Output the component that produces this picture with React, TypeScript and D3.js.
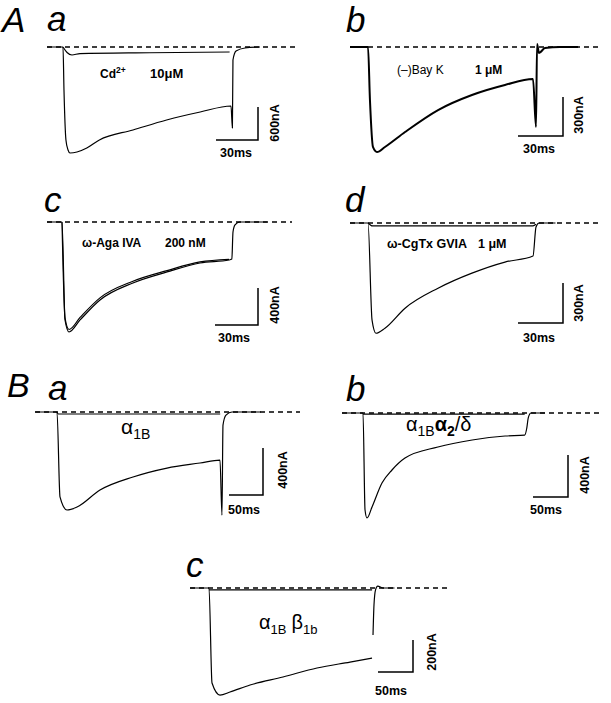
import * as d3 from "d3";

// ---- traces: time in ms from step onset, current in nA (inward = negative) ----
// A a: control, then 10 uM Cd2+
const aaTime = [-11.4, 0, 0.7, 2.1, 3.6, 5, 10, 17, 26, 50, 74, 98, 120, 121, 121.4, 123.6, 130, 140.7];
const aaCurrent = [0, 0, -780, -1690, -1873, -1927, -1909, -1836, -1690, -1509, -1327, -1182, -1073, -1473, -236, -73, -18, 0];
const aaCdTime = [0, 2.9, 6.4, 12.1, 62, 119];
const aaCdCurrent = [0, -100, -145, -120, -105, -91];

// A b: (-)Bay K 1 uM
const abTime = [-12, 0, 1.3, 3.3, 6, 11.3, 24.7, 46.7, 69.3, 91.3, 110, 112, 112.7, 114, 118, 128, 140];
const abCurrent = [0, 0, -408, -769, -808, -769, -654, -485, -369, -292, -246, -615, 23, -46, -8, 0, 0];

// A c: w-Aga IVA 200 nM (two near-identical sweeps)
const acTime = [-10.5, 0, 2.1, 4.9, 12.6, 26.5, 49.5, 73.3, 96.3, 116.5, 118.5, 119.3, 120.7, 124, 143];
const acCurrent = [0, 0, -1059, -1189, -1059, -843, -659, -540, -443, -411, -400, -108, -32, 0, 0];
const acToxTime = [0, 2.1, 4.9, 12.6, 26.5, 49.5, 73.3, 96.3, 116.5];
const acToxCurrent = [0, -1035, -1162, -1032, -820, -640, -525, -432, -404];

// A d: w-CgTx GVIA 1 uM
const adTime = [-12, 0, 2.7, 5.3, 11.3, 24.7, 46.7, 69.3, 91.3, 110, 112, 114, 125];
const adCurrent = [0, 0, -729, -827, -789, -639, -489, -376, -293, -248, -30, 0, 0];
const adToxTime = [0, 3, 110, 112];
const adToxCurrent = [0, -22, -22, -10];

// B a: alpha1B
const baTime = [-32, 0, 4.4, 14.7, 29.4, 63.2, 111.8, 161.8, 210.3, 239.7, 242.6, 244.1, 248.5, 257.4, 300];
const baCurrent = [0, 0, -723, -834, -809, -664, -553, -477, -434, -409, -877, -111, -26, 0, 0];
const baResTime = [0, 2, 240];
const baResCurrent = [0, -17, -17];

// B b: alpha1B alpha2/delta
const bbTime = [-30, 0, 2.9, 5.7, 12.9, 27.1, 41.4, 60, 107, 156, 203, 231, 234, 236, 240, 260];
const bbCurrent = [0, 0, -924, -1000, -895, -667, -543, -429, -324, -257, -219, -210, -143, -48, 0, 0];
const bbResTime = [0, 231];
const bbResCurrent = [-10, -10];

// B c: alpha1B beta1b
const bcTime = [-27, 0, 4.3, 15.7, 30, 58.6, 105.7, 154.3, 201.4, 232.9];
const bcCurrent = [0, 0, -594, -669, -650, -606, -556, -500, -463, -438];
const bcTailTime = [234.3, 235.7, 238, 241, 248.6, 265];
const bcTailCurrent = [-294, -106, -10, 12, 0, 0];
const bcResTime = [0, 233];
const bcResCurrent = [-12, -12];

type Series = { t: number[]; i: number[]; w?: number };
type Panel = {
  letter: string;
  lx: number;
  ly: number;
  x0: number;
  y0: number;
  barMs: number;
  barW: number;
  barNA: number;
  barH: number;
  cx: number;
  cy: number;
  dash: [number, number];
  series: Series[];
  msPos: [number, number];
  nAPos: [number, number];
};

const panels: Panel[] = [
  { letter: "a", lx: 47, ly: 31, x0: 63, y0: 47, barMs: 30, barW: 42, barNA: 600, barH: 33, cx: 258, cy: 140, dash: [47, 295],
    series: [{ t: aaTime, i: aaCurrent }, { t: aaCdTime, i: aaCdCurrent }], msPos: [220, 157], nAPos: [279, 123] },
  { letter: "b", lx: 346, ly: 32, x0: 368, y0: 47, barMs: 30, barW: 45, barNA: 300, barH: 39, cx: 563, cy: 136, dash: [350, 598],
    series: [{ t: abTime, i: abCurrent, w: 2 }], msPos: [523, 153], nAPos: [583, 115] },
  { letter: "c", lx: 44, ly: 212, x0: 62, y0: 222, barMs: 30, barW: 43, barNA: 400, barH: 37, cx: 258, cy: 325, dash: [47, 292],
    series: [{ t: acTime, i: acCurrent }, { t: acToxTime, i: acToxCurrent }], msPos: [218, 342], nAPos: [279, 305] },
  { letter: "d", lx: 345, ly: 212, x0: 368, y0: 223, barMs: 30, barW: 45, barNA: 300, barH: 40, cx: 563, cy: 323, dash: [350, 598],
    series: [{ t: adTime, i: adCurrent }, { t: adToxTime, i: adToxCurrent }], msPos: [523, 342], nAPos: [583, 303] },
  { letter: "a", lx: 48, ly: 400, x0: 57, y0: 412, barMs: 50, barW: 34, barNA: 400, barH: 47, cx: 263, cy: 495, dash: [35, 300],
    series: [{ t: baTime, i: baCurrent }, { t: baResTime, i: baResCurrent }], msPos: [228, 514], nAPos: [287, 470] },
  { letter: "b", lx: 346, ly: 401, x0: 363, y0: 413, barMs: 50, barW: 35, barNA: 400, barH: 42, cx: 568, cy: 497, dash: [342, 600],
    series: [{ t: bbTime, i: bbCurrent }, { t: bbResTime, i: bbResCurrent }], msPos: [530, 514], nAPos: [589, 475] },
  { letter: "c", lx: 186, ly: 577, x0: 209, y0: 588, barMs: 50, barW: 35, barNA: 200, barH: 32, cx: 413, cy: 672, dash: [190, 448],
    series: [{ t: bcTime, i: bcCurrent }, { t: bcTailTime, i: bcTailCurrent }, { t: bcResTime, i: bcResCurrent }], msPos: [375, 695], nAPos: [436, 652] },
];

const sans = "'Liberation Sans', Arial, Helvetica, sans-serif";

function TracePanel({ p }: { p: Panel }) {
  const x = d3.scaleLinear().domain([0, p.barMs]).range([p.x0, p.x0 + p.barW]);
  const y = d3.scaleLinear().domain([0, -p.barNA]).range([p.y0, p.y0 + p.barH]);
  const baseY = y(0);
  return (
    <g>
      <text x={p.lx} y={p.ly} fontFamily={sans} fontStyle="italic" fontSize={35}>
        {p.letter}
      </text>
      <line x1={p.dash[0]} x2={p.dash[1]} y1={baseY} y2={baseY} stroke="#000" strokeWidth={1.3} strokeDasharray="5,4" />
      {p.series.map((s, k) => {
        const line = d3
          .line<number>()
          .x((_, j) => x(s.t[j]))
          .y((_, j) => y(s.i[j]))
          .curve(d3.curveMonotoneX);
        return <path key={k} d={line(s.t) ?? ""} fill="none" stroke="#000" strokeWidth={s.w ?? 1.2} strokeLinejoin="round" />;
      })}
      <path
        d={`M${p.cx - (x(p.barMs) - x(0))},${p.cy}H${p.cx}V${p.cy - (y(-p.barNA) - y(0))}`}
        fill="none"
        stroke="#000"
        strokeWidth={1.5}
      />
      <text x={p.msPos[0]} y={p.msPos[1]} fontFamily={sans} fontWeight="bold" fontSize={12.5}>
        {`${p.barMs}ms`}
      </text>
      <text
        transform={`translate(${p.nAPos[0]},${p.nAPos[1]}) rotate(-90)`}
        textAnchor="middle"
        fontFamily={sans}
        fontWeight="bold"
        fontSize={12.5}
      >
        {`${p.barNA}nA`}
      </text>
    </g>
  );
}

export default function App() {
  const lab = { fontFamily: sans, fontWeight: "bold" as const, fontSize: 12 };
  return (
    <svg width={611} height={703} style={{ position: "absolute", left: 0, top: 0, background: "#fff" }}>
      <text x={2} y={32} fontFamily={sans} fontStyle="italic" fontSize={35}>A</text>
      <text x={7} y={397} fontFamily={sans} fontStyle="italic" fontSize={34}>B</text>
      {panels.map((p, k) => (
        <TracePanel key={k} p={p} />
      ))}
      {/* condition labels */}
      <text x={100} y={78} {...lab}>
        Cd<tspan fontSize={8.5} dy={-5}>2+</tspan>
      </text>
      <text x={150} y={78} {...lab} fontSize={13}>10μM</text>
      <text x={397} y={74} {...lab} fontWeight="normal" fontSize={12}>(–)Bay K</text>
      <text x={475} y={74} {...lab} fontSize={12}>1 μM</text>
      <text x={82} y={247} {...lab}>ω-Aga IVA</text>
      <text x={165} y={247} {...lab}>200 nM</text>
      <text x={387} y={248} {...lab} fontSize={12.5}>ω-CgTx GVIA</text>
      <text x={478} y={248} {...lab} fontSize={12.5}>1 μM</text>
      <text x={121} y={434} fontFamily={sans} fontSize={21}>
        α<tspan fontSize={14} dy={5}>1B</tspan>
      </text>
      <text x={406} y={431} fontFamily={sans} fontSize={20}>
        α<tspan fontSize={14} dy={5}>1B</tspan>
        <tspan fontSize={20} dy={-5} fontWeight="bold">α</tspan>
        <tspan fontSize={14} dy={5} fontWeight="bold">2</tspan>
        <tspan fontSize={20} dy={-5}>/δ</tspan>
      </text>
      <text x={259} y={629} fontFamily={sans} fontSize={20}>
        α<tspan fontSize={13} dy={5}>1B</tspan>
        <tspan fontSize={20} dy={-5} dx={5}>β</tspan>
        <tspan fontSize={13} dy={5}>1b</tspan>
      </text>
    </svg>
  );
}
